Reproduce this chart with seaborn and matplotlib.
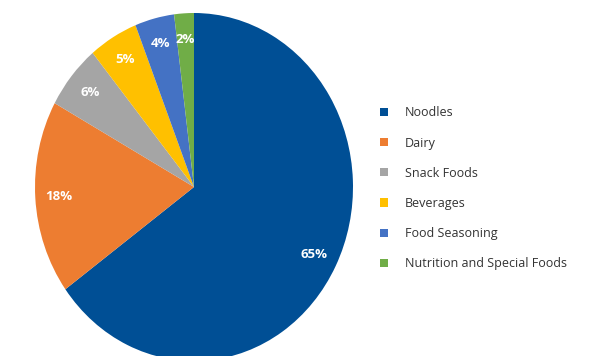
import matplotlib
matplotlib.use("Agg")
import matplotlib.pyplot as plt
import seaborn as sns
from matplotlib.patches import Patch

categories = ["Noodles", "Dairy", "Snack Foods", "Beverages", "Food Seasoning",
              "Nutrition and Special Foods"]
shares = [65, 18, 6, 5, 4, 2]
colors = ["#004F95", "#ED7D31", "#A5A5A5", "#FFC000", "#4472C4", "#70AD47"]

sns.set_theme(style="white")
plt.rcParams["font.family"] = ["Open Sans", "DejaVu Sans"]
palette = sns.color_palette(colors)

W, H = 589, 356
fig = plt.figure(figsize=(W / 100, H / 100), dpi=100)
# pie axes in pixel-based placement (ellipse: rx~159, ry~174, center (194,187))
cx, cy, rx, ry = 194, 187, 159, 174
ax = fig.add_axes([(cx - rx) / W, (H - (cy + ry)) / H, 2 * rx / W, 2 * ry / H])
wedges, texts, autotexts = ax.pie(
    shares, colors=palette, startangle=90, counterclock=False,
    autopct=lambda p: f"{p:.0f}%", pctdistance=0.85,
    textprops=dict(color="white", fontsize=9.5, fontweight="bold"),
    wedgeprops=dict(linewidth=0),
)
ax.set_aspect("auto")
ax.set_xlim(-1, 1)
ax.set_ylim(-1, 1)
ax.axis("off")

handles = [Patch(facecolor=c, edgecolor="none") for c in palette]
fig.legend(handles, categories, loc="upper left",
           bbox_to_anchor=(369 / W, 1 - 95 / H), frameon=False,
           fontsize=9, labelspacing=1.38, handlelength=0.64, handleheight=0.64,
           handletextpad=1.36, labelcolor="#333333")

fig.savefig("out.png", dpi=100)
